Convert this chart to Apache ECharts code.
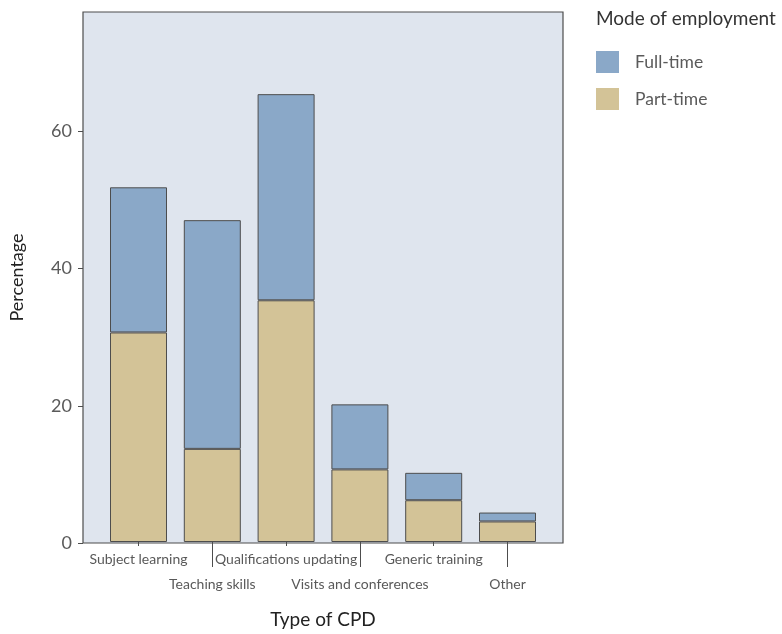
<!DOCTYPE html>
<html>
<head>
<meta charset="utf-8">
<script src="https://cdn.jsdelivr.net/npm/echarts@6/dist/echarts.min.js"></script>
<style>html,body{margin:0;padding:0;background:#fff}#c{width:782px;height:634px}</style>
</head>
<body>
<div id="c"></div>
<script>
var categories = ['Subject learning', 'Teaching skills', 'Qualifications updating', 'Visits and conferences', 'Generic training', 'Other'];
var partTime = [30.6, 13.6, 35.3, 10.6, 6.1, 3.0];
var fullTime = [21.2, 33.4, 30.1, 9.5, 4.0, 1.3];
var yTicks = [0, 20, 40, 60];

var FONT = 'Lato, "Open Sans", sans-serif';
var chart = echarts.init(document.getElementById('c'), null, {renderer: 'canvas'});
var YMAX = 77.4;
chart.setOption({
  animation: false,
  textStyle: {fontFamily: FONT},
  grid: [
    {left: 83, top: 12, width: 480, height: 531, show: true, backgroundColor: '#dfe5ee', borderColor: '#4d4d4d', borderWidth: 1.2},
    {left: 101.6, top: 12, width: 442.8, height: 531, show: false}
  ],
  xAxis: [
    {gridIndex: 0, type: 'value', min: 0, max: 1, show: false},
    {gridIndex: 1, type: 'category', data: categories,
      axisLine: {show: false},
      axisTick: {show: true, alignWithLabel: true, length: 4, lineStyle: {color: '#4d4d4d', width: 1},
        interval: function (i) { return i % 2 === 0; }},
      axisLabel: {interval: function (i) { return i % 2 === 0; }, margin: 10, fontSize: 14, color: '#595959', fontFamily: FONT}
    },
    {gridIndex: 1, type: 'category', data: categories, position: 'bottom',
      axisLine: {show: false},
      axisTick: {show: true, alignWithLabel: true, length: 25, lineStyle: {color: '#4d4d4d', width: 1},
        interval: function (i) { return i % 2 === 1; }},
      axisLabel: {interval: function (i) { return i % 2 === 1; }, margin: 35, fontSize: 14, color: '#595959', fontFamily: FONT},
      name: 'Type of CPD', nameLocation: 'middle', nameGap: 68,
      nameTextStyle: {fontSize: 19, color: '#222', fontFamily: FONT}
    }
  ],
  yAxis: [
    {gridIndex: 0, type: 'value', min: 0, max: YMAX, interval: 20,
      axisLine: {show: false},
      axisTick: {show: true, length: 5, lineStyle: {color: '#4d4d4d', width: 1},
        customValues: yTicks},
      splitLine: {show: false},
      axisLabel: {showMaxLabel: false, margin: 11, fontSize: 18, color: '#5a5a5a', fontFamily: FONT,
        formatter: function (v) { return yTicks.indexOf(v) >= 0 ? String(v) : ''; }},
      name: 'Percentage', nameLocation: 'middle', nameGap: 57, nameRotate: 90,
      nameTextStyle: {fontSize: 18, color: '#222', fontFamily: FONT}
    },
    {gridIndex: 1, type: 'value', min: 0, max: YMAX, show: false}
  ],
  legend: {
    data: ['Full-time', 'Part-time'], orient: 'vertical', left: 596, top: 51,
    itemWidth: 23, itemHeight: 22, itemGap: 15, icon: 'rect', padding: 0,
    itemStyle: {borderWidth: 0},
    textStyle: {fontSize: 17.5, color: '#5a5a5a', fontFamily: FONT, padding: [0, 0, 0, 11]}
  },
  graphic: [
    {type: 'text', left: 596, top: 9, style: {text: 'Mode of employment', fontSize: 19, fill: '#333', fontFamily: FONT}}
  ],
  series: [
    {name: 'Part-time', type: 'bar', stack: 'total', xAxisIndex: 1, yAxisIndex: 1, barWidth: 57,
      data: partTime, itemStyle: {color: '#d3c397', borderColor: '#4d4d4d', borderWidth: 1}},
    {name: 'Full-time', type: 'bar', stack: 'total', xAxisIndex: 1, yAxisIndex: 1, barWidth: 57,
      data: fullTime, itemStyle: {color: '#8aa8c8', borderColor: '#4d4d4d', borderWidth: 1}}
  ]
});
</script>
</body>
</html>
